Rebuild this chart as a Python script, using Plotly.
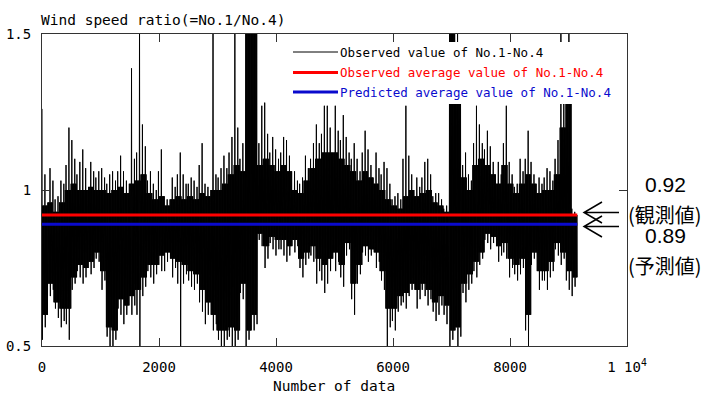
import numpy as np
import plotly.graph_objects as go

# ---- data (per block of ~100 samples) ----
# largest excursions (spikes) in each block
HI = [1.26, 1.07, 0.98, 1.03, 1.20, 1.16, 1.09, 1.13, 1.09, 1.06,
      1.07, 1.05, 1.06, 1.11, 1.06, 1.39, 1.55, 1.21, 1.06, 1.02,
      1.13, 0.98, 1.04, 1.12, 1.05, 1.04, 1.03, 1.15, 1.02, 1.55,
      1.07, 1.11, 1.17, 1.55, 1.15, 1.55, 1.55, 1.27, 1.28, 1.17,
      1.13, 1.17, 1.16, 1.06, 1.04, 1.11, 1.15, 1.21, 1.27, 1.27,
      1.27, 1.24, 1.17, 1.15, 1.10, 1.19, 1.13, 1.12, 1.09, 1.07,
      0.98, 0.99, 1.27, 1.11, 1.04, 1.09, 1.10, 0.99, 0.99, 0.95,
      1.55, 1.55, 1.12, 1.05, 1.27, 1.21, 1.19, 1.14, 1.09, 1.27,
      1.09, 1.02, 1.10, 1.19, 1.09, 1.04, 1.07, 1.06, 1.16, 1.55,
      1.55, 0.94]
LO = [0.52, 0.66, 0.59, 0.56, 0.52, 0.68, 0.72, 0.70, 0.73, 0.77,
      0.68, 0.50, 0.50, 0.60, 0.57, 0.60, 0.45, 0.66, 0.72, 0.70,
      0.74, 0.74, 0.72, 0.45, 0.70, 0.69, 0.68, 0.61, 0.57, 0.55,
      0.50, 0.50, 0.50, 0.47, 0.65, 0.50, 0.55, 0.82, 0.75, 0.81,
      0.79, 0.79, 0.77, 0.80, 0.72, 0.76, 0.77, 0.70, 0.67, 0.70,
      0.74, 0.69, 0.79, 0.60, 0.70, 0.79, 0.77, 0.75, 0.68, 0.50,
      0.55, 0.61, 0.62, 0.66, 0.62, 0.66, 0.63, 0.58, 0.60, 0.57,
      0.50, 0.50, 0.64, 0.68, 0.72, 0.76, 0.83, 0.81, 0.77, 0.78,
      0.72, 0.71, 0.73, 0.50, 0.76, 0.68, 0.68, 0.72, 0.79, 0.76,
      0.68, 0.66]
# second-largest excursions in each block
HI2 = [1.05, 1.03, 0.97, 1.02, 1.08, 1.10, 1.05, 1.07, 1.06, 1.04,
       1.04, 1.02, 1.03, 1.06, 1.03, 1.10, 1.12, 1.14, 1.03, 1.00,
       1.06, 0.97, 1.01, 1.05, 1.02, 1.02, 1.01, 1.08, 1.01, 1.05,
       1.04, 1.07, 1.12, 1.20, 1.10, 1.50, 1.50, 1.15, 1.18, 1.12,
       1.10, 1.12, 1.11, 1.03, 1.02, 1.07, 1.10, 1.15, 1.18, 1.20,
       1.19, 1.16, 1.12, 1.10, 1.06, 1.12, 1.08, 1.07, 1.05, 1.02,
       0.97, 0.97, 1.10, 1.05, 1.01, 1.04, 1.05, 0.98, 0.97, 0.94,
       1.50, 1.45, 1.08, 1.03, 1.15, 1.15, 1.13, 1.09, 1.05, 1.15,
       1.05, 1.01, 1.06, 1.10, 1.05, 1.02, 1.04, 1.03, 1.10, 1.35,
       1.40, 0.93]
LO2 = [0.56, 0.68, 0.62, 0.58, 0.57, 0.70, 0.74, 0.72, 0.75, 0.78,
       0.71, 0.53, 0.52, 0.62, 0.60, 0.63, 0.60, 0.69, 0.74, 0.73,
       0.76, 0.77, 0.75, 0.70, 0.73, 0.71, 0.70, 0.64, 0.60, 0.57,
       0.52, 0.52, 0.53, 0.52, 0.67, 0.52, 0.57, 0.84, 0.78, 0.83,
       0.81, 0.81, 0.79, 0.82, 0.75, 0.78, 0.79, 0.74, 0.71, 0.74,
       0.77, 0.72, 0.81, 0.65, 0.73, 0.80, 0.79, 0.77, 0.71, 0.56,
       0.58, 0.63, 0.64, 0.68, 0.65, 0.68, 0.65, 0.61, 0.63, 0.60,
       0.52, 0.53, 0.67, 0.70, 0.74, 0.78, 0.84, 0.83, 0.79, 0.80,
       0.75, 0.73, 0.75, 0.55, 0.78, 0.71, 0.71, 0.74, 0.81, 0.78,
       0.71, 0.69]
# dense core range in each block
CORE_HI = [0.95, 0.96, 0.93, 0.96, 1.00, 1.02, 1.00, 1.00, 1.01, 1.00,
           1.00, 0.99, 1.00, 1.01, 0.99, 1.02, 1.03, 1.05, 0.99, 0.97,
           0.98, 0.95, 0.97, 0.98, 0.97, 0.98, 0.97, 0.99, 0.98, 1.00,
           1.00, 1.02, 1.05, 1.08, 1.06, 1.50, 1.50, 1.08, 1.10, 1.08,
           1.06, 1.08, 1.06, 1.00, 0.99, 1.03, 1.07, 1.10, 1.12, 1.12,
           1.12, 1.10, 1.08, 1.06, 1.03, 1.06, 1.04, 1.02, 1.00, 0.97,
           0.95, 0.94, 0.98, 1.00, 0.98, 0.99, 1.00, 0.96, 0.95, 0.93,
           1.50, 1.40, 1.04, 1.00, 1.08, 1.10, 1.08, 1.05, 1.02, 1.08,
           1.02, 0.99, 1.02, 1.05, 1.02, 0.99, 1.00, 1.00, 1.05, 1.20,
           1.30, 0.92]
CORE_LO = [0.60, 0.70, 0.64, 0.62, 0.62, 0.72, 0.76, 0.75, 0.77, 0.80,
           0.74, 0.56, 0.55, 0.65, 0.63, 0.66, 0.68, 0.72, 0.76, 0.76,
           0.79, 0.80, 0.78, 0.77, 0.76, 0.74, 0.73, 0.68, 0.64, 0.60,
           0.55, 0.55, 0.56, 0.55, 0.70, 0.55, 0.60, 0.86, 0.82, 0.85,
           0.84, 0.84, 0.82, 0.84, 0.78, 0.80, 0.82, 0.78, 0.76, 0.78,
           0.80, 0.76, 0.83, 0.70, 0.76, 0.82, 0.81, 0.80, 0.74, 0.62,
           0.62, 0.66, 0.67, 0.70, 0.68, 0.70, 0.68, 0.64, 0.66, 0.63,
           0.55, 0.56, 0.70, 0.73, 0.77, 0.80, 0.86, 0.85, 0.82, 0.83,
           0.78, 0.76, 0.78, 0.60, 0.80, 0.74, 0.74, 0.77, 0.83, 0.80,
           0.74, 0.72]
N_DATA = 9150
OBS_AVG = 0.92
PRED_AVG = 0.89
X_TICKS = [0, 2000, 4000, 6000, 8000, 10000]
X_TICKTEXT = ["0", "2000", "4000", "6000", "8000", "1 10<sup>4</sup>"]
Y_TICKS = [0.5, 1.0, 1.5]
Y_TICKTEXT = ["0.5", "1", "1.5"]
LEGEND_LABELS = ["Observed value of No.1-No.4",
                 "Observed average value of No.1-No.4",
                 "Predicted average value of No.1-No.4"]

# build the dense observed series: per block, two spike pairs inside the core range
PTS = 16
n_blocks = len(HI)
xs = np.linspace(0, N_DATA, n_blocks * PTS)
ys = []
for b in range(n_blocks):
    block = [CORE_HI[b] if k % 2 == 0 else CORE_LO[b] for k in range(PTS)]
    p1 = (b * 6) % (PTS - 2)
    p1 -= p1 % 2
    p2 = (p1 + 8) % PTS
    block[p1], block[p1 + 1] = HI[b], LO[b]
    block[p2], block[p2 + 1] = HI2[b], LO2[b]
    ys.extend(block)

MONO = "DejaVu Sans Mono"
RED = "#ff0000"
BLUE = "#0a0acd"

fig = go.Figure()
fig.add_trace(go.Scatter(x=xs, y=ys, mode="lines",
                         line=dict(color="black", width=1, simplify=False),
                         showlegend=False, hoverinfo="skip"))
fig.add_trace(go.Scatter(x=[0, N_DATA], y=[OBS_AVG, OBS_AVG], mode="lines",
                         line=dict(color=RED, width=3), showlegend=False))
fig.add_trace(go.Scatter(x=[0, N_DATA], y=[PRED_AVG, PRED_AVG], mode="lines",
                         line=dict(color=BLUE, width=3), showlegend=False))

L, R, T, B = 42, 77, 34, 50
W, H = 704, 396
PW, PH = W - L - R, H - T - B


def px(xp):
    return (xp - L) / PW


def py(yp):
    return (H - B - yp) / PH


shapes = []
# legend background
shapes.append(dict(type="rect", xref="paper", yref="paper",
                   x0=px(286), x1=px(626), y0=py(104), y1=py(42),
                   fillcolor="white", line=dict(width=0), layer="above"))
leg_rows = [52, 72.5, 92]
leg_colors = ["black", RED, BLUE]
leg_widths = [1, 3, 3]
for yy, c, w in zip(leg_rows, leg_colors, leg_widths):
    shapes.append(dict(type="line", xref="paper", yref="paper",
                       x0=px(293), x1=px(338), y0=py(yy), y1=py(yy),
                       line=dict(color=c, width=w), layer="above"))

# arrows on the right side
for tip_y in [212.5, 226.5]:
    path = (f"M{px(619)},{py(tip_y)} L{px(584)},{py(tip_y)} "
            f"M{px(602)},{py(tip_y - 10.5)} L{px(584)},{py(tip_y)} L{px(602)},{py(tip_y + 10.5)}")
    shapes.append(dict(type="path", xref="paper", yref="paper", path=path,
                       line=dict(color="black", width=1.5), layer="above"))

annotations = []
annotations.append(dict(text="Wind speed ratio(=No.1/No.4)", xref="paper", yref="paper",
                        x=px(39), y=py(20), xanchor="left", yanchor="middle",
                        showarrow=False, font=dict(family=MONO, size=14.5, color="black")))
annotations.append(dict(text="Number of data", xref="paper", yref="paper",
                        x=px(334), y=py(386), xanchor="center", yanchor="middle",
                        showarrow=False, font=dict(family=MONO, size=14.5, color="black")))
for yy, c, txt in zip(leg_rows, ["black", RED, BLUE], LEGEND_LABELS):
    annotations.append(dict(text=txt, xref="paper", yref="paper",
                            x=px(338), y=py(yy), xanchor="left", yanchor="middle",
                            showarrow=False, font=dict(family=MONO, size=12.5, color=c)))

SANS = "Liberation Sans"
CJK = "Noto Sans CJK JP"
annotations.append(dict(text=f"{OBS_AVG:.2f}", xref="paper", yref="paper",
                        x=px(665), y=py(185), xanchor="center", yanchor="middle",
                        showarrow=False, font=dict(family=SANS, size=21, color="black")))
annotations.append(dict(text="(観測値)", xref="paper", yref="paper",
                        x=px(626), y=py(215), xanchor="left", yanchor="middle",
                        showarrow=False, font=dict(family=CJK, size=20, color="black")))
annotations.append(dict(text=f"{PRED_AVG:.2f}", xref="paper", yref="paper",
                        x=px(665), y=py(236), xanchor="center", yanchor="middle",
                        showarrow=False, font=dict(family=SANS, size=21, color="black")))
annotations.append(dict(text="(予測値)", xref="paper", yref="paper",
                        x=px(626), y=py(265), xanchor="left", yanchor="middle",
                        showarrow=False, font=dict(family=CJK, size=20, color="black")))

axis_common = dict(showline=True, linecolor="#333333", linewidth=1, mirror="ticks",
                   ticks="inside", ticklen=8, tickcolor="#333333", showgrid=False,
                   zeroline=False, automargin=False,
                   tickfont=dict(family=MONO, size=14, color="black"))

fig.update_layout(
    width=W, height=H,
    margin=dict(l=L, r=R, t=T, b=B),
    paper_bgcolor="white", plot_bgcolor="white",
    showlegend=False,
    xaxis=dict(range=[0, 10000], tickvals=X_TICKS, ticktext=X_TICKTEXT,
               ticklabelstandoff=8, **axis_common),
    yaxis=dict(range=[0.5, 1.5], tickvals=Y_TICKS, ticktext=Y_TICKTEXT,
               ticklabelstandoff=7, **axis_common),
    shapes=shapes,
    annotations=annotations,
)

fig.write_html("out.html")
